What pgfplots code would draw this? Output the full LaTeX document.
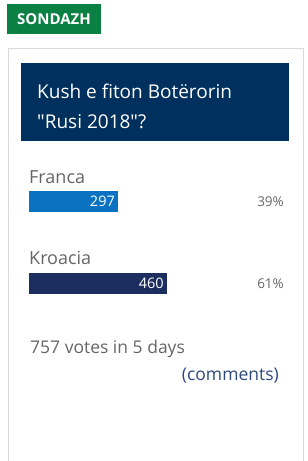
\documentclass[border=0pt]{standalone}
\usepackage{pgfplots}
\pgfplotsset{compat=1.18}
\usepackage{fontspec}
\setmainfont{Open Sans}[Ligatures=TeXOff]
\definecolor{sgreen}{HTML}{0A8043}
\definecolor{snavy}{HTML}{00305E}
\definecolor{sblue}{HTML}{0A72C1}
\definecolor{sdark}{HTML}{1B2E5F}
\definecolor{sgray}{HTML}{666666}
\definecolor{slink}{HTML}{2E4A7B}
\definecolor{sborder}{HTML}{DADADA}
\begin{document}
\begin{tikzpicture}
\path[use as bounding box, fill=white] (0,0) rectangle (308bp,461bp);
% outer box
\draw[sborder, line width=1bp] (8bp,-2bp) -- (8bp,412bp) -- (303bp,412bp) -- (303bp,-2bp);
% green tag
\fill[sgreen] (7bp,427bp) rectangle (101bp,457bp);
\node[anchor=base, text=white, inner sep=0pt, font=\fontsize{15bp}{17bp}\selectfont\bfseries] at (54bp,436bp) {SONDAZH};
% title box
\fill[snavy] (21bp,320bp) rectangle (289bp,398bp);
\node[anchor=base west, text=white, inner sep=0pt, font=\fontsize{19bp}{23bp}\selectfont] at (37bp,362bp) {Kush e fiton Botërorin};
\node[anchor=base west, text=white, inner sep=0pt, font=\fontsize{19bp}{23bp}\selectfont] at (37bp,332bp) {"Rusi 2018"?};
% labels
\node[anchor=base west, text=sgray, inner sep=0pt, font=\fontsize{18bp}{20bp}\selectfont] at (29bp,277bp) {Franca};
\node[anchor=base west, text=sgray, inner sep=0pt, font=\fontsize{18bp}{20bp}\selectfont] at (29bp,196bp) {Kroacia};
\node[anchor=base east, text=sgray, inner sep=0pt, font=\fontsize{13.5bp}{16bp}\selectfont] at (284bp,254bp) {39\%};
\node[anchor=base east, text=sgray, inner sep=0pt, font=\fontsize{13.5bp}{16bp}\selectfont] at (284bp,172bp) {61\%};
\node[anchor=base west, text=sgray, inner sep=0pt, font=\fontsize{17.5bp}{20bp}\selectfont] at (30bp,107bp) {757 votes in 5 days};
\node[anchor=base east, text=slink, inner sep=0pt, font=\fontsize{17.5bp}{20bp}\selectfont] at (279bp,80bp) {(comments)};
\begin{axis}[
  at={(29bp,0bp)}, anchor=south west,
  scale only axis, width=227bp, height=461bp,
  xmin=0, xmax=757, ymin=0, ymax=461, y dir=reverse,
  axis lines=none, xbar, bar width=21bp, bar shift=0pt,
  clip=false,
  /pgf/number format/assume math mode=true,
  nodes near coords,
  point meta=x,
  nodes near coords style={anchor=east, text=white, inner sep=0pt, xshift=-3bp, font=\fontsize{14.5bp}{17bp}\selectfont},
]
\addplot[fill=sblue, draw=none] coordinates {(297,201.5)};
\addplot[fill=sdark, draw=none] coordinates {(460,283.5)};
\end{axis}
\end{tikzpicture}
\end{document}
